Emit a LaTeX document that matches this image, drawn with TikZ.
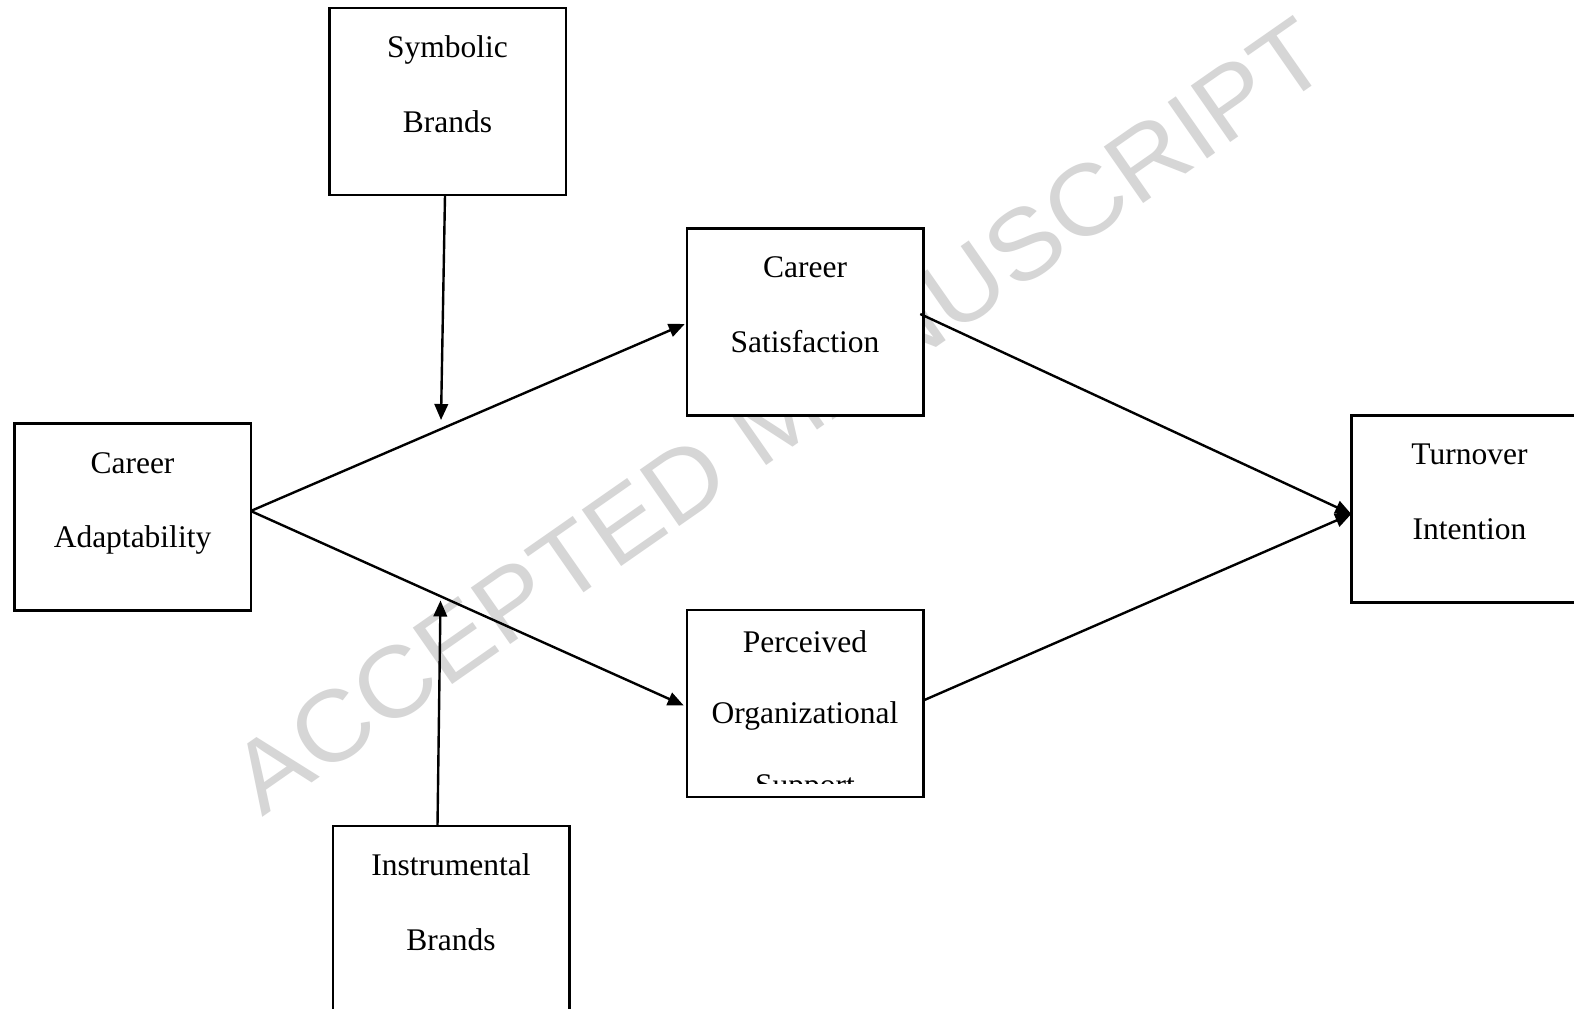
\documentclass[tikz,border=0pt]{standalone}
\usepackage{fontspec}
\setmainfont{Liberation Serif}
\newfontfamily\wmfont{Liberation Sans}
\usetikzlibrary{arrows.meta}
\definecolor{wmgray}{RGB}{214,214,214}
\begin{document}
\begin{tikzpicture}[x=1pt,y=-1pt,
  box/.style={draw=black, line width=2.5pt, fill=white, minimum width=236.5pt, minimum height=187pt, inner sep=0pt, outer sep=0pt},
  lbl/.style={anchor=base, inner sep=0pt, font=\fontsize{31.5}{37}\selectfont},
  arr/.style={line width=2.4pt, -{Triangle[length=16pt,width=13.5pt]}},
]
\clip (0,0) rectangle (1574,1009);
\fill[white] (0,0) rectangle (1574,1009);
% watermark
\node[anchor=base west, rotate=34.9, inner sep=0pt, text=wmgray, font=\wmfont\fontsize{100}{100}\selectfont] (wm) at (262,818) {\scalebox{1.06}[1]{ACCEPTED MANUSCRIPT}};
% boxes
\node[box] (sb) at (447.5,101.5) {};
\node[box] (cs) at (805,322) {};
\node[box] (ca) at (132.5,517) {};
\node[box] (ti) at (1469.5,509) {};
\node[box] (pos) at (805,703.5) {};
\node[box] (ib) at (451,919.5) {};
% labels
\node[lbl] (sb1) at (447.5,57) {Symbolic};
\node[lbl] (sb2) at (447.5,132) {Brands};
\node[lbl] (cs1) at (805,277) {Career};
\node[lbl] (cs2) at (805,352) {Satisfaction};
\node[lbl] (ca1) at (132.5,473) {Career};
\node[lbl] (ca2) at (132.5,547) {Adaptability};
\node[lbl] (ti1) at (1469.5,464) {Turnover};
\node[lbl] (ti2) at (1469.5,539) {Intention};
\node[lbl] (pos1) at (805,652) {Perceived};
\node[lbl] (pos2) at (805,723) {Organizational};
\begin{scope}
  \clip (690,740) rectangle (920,783);
  \node[lbl] (pos3) at (805,795) {Support};
\end{scope}
\node[lbl] (ib1) at (451,875) {Instrumental};
\node[lbl] (ib2) at (451,950) {Brands};
% moderator targets
\coordinate (symtip) at (441,420);
\coordinate (insttip) at (440.5,600.5);
% connectors
\draw[arr] ([yshift=6pt]ca.east) -- ([xshift=-2pt,yshift=-2pt]cs.west);
\draw[arr] ([yshift=6pt]ca.east) -- ([xshift=-3pt,yshift=-2pt]pos.west);
\draw[arr] ([xshift=-3pt,yshift=8pt]cs.east) -- ([yshift=-5pt]ti.west);
\draw[arr] ([yshift=3pt]pos.east) -- ([yshift=-5pt]ti.west);
\draw[arr] ([xshift=-2.5pt]sb.south) -- (symtip);
\draw[arr] ([xshift=-13.5pt]ib.north) -- (insttip);
\end{tikzpicture}
\end{document}
